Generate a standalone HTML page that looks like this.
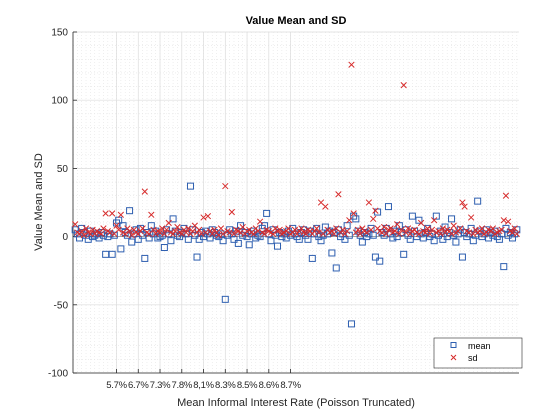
<!DOCTYPE html>
<html><head><meta charset="utf-8"><style>
html,body{margin:0;padding:0;background:#fff;}
svg{display:block;font-family:"Liberation Sans",sans-serif;}
</style></head><body>
<svg id="chart" width="560" height="420" viewBox="0 0 560 420">
<rect x="0" y="0" width="560" height="420" fill="#fff"/>
<g id="grid"></g>
<g id="axes"></g>
<g id="marks"></g>
<text x="296" y="24" text-anchor="middle" font-size="11" font-weight="bold" fill="#000">Value Mean and SD</text>
<text x="296" y="406" text-anchor="middle" font-size="11" fill="#262626">Mean Informal Interest Rate (Poisson Truncated)</text>
<text transform="translate(42,202) rotate(-90)" text-anchor="middle" font-size="11" fill="#262626">Value Mean and SD</text>
<g>
<rect x="434" y="338" width="88" height="30" fill="#fff" stroke="#262626" stroke-width="0.6"/>
<rect x="451" y="342.5" width="5" height="5" fill="none" stroke="#2e5fb0" stroke-width="1"/>
<text x="468" y="349" font-size="9" fill="#000">mean</text>
<path d="M451,355 l5,5 M456,355 l-5,5" stroke="#d62b2b" stroke-width="1"/>
<text x="468" y="361" font-size="9" fill="#000">sd</text>
</g>
</svg>
<script>
const meanValues=[5,2,-1,6,3,1,-2,4,0,1,2,-1,3,1,-13,0,2,-13,1,10,
12,-9,8,3,1,19,-4,2,5,-2,6,1,-16,3,-1,8,2,4,-1,0,
1,-8,5,2,-3,13,4,1,0,3,6,2,-2,37,5,1,-15,-2,3,0,
4,2,-1,5,3,1,0,2,-3,-46,1,5,2,-2,4,-5,8,1,3,0,
-6,2,4,-1,1,0,6,8,17,2,-3,5,1,-7,3,0,2,-1,4,1,
6,2,0,-2,3,5,1,-2,4,-16,2,6,0,-3,1,7,2,4,-12,3,
-23,5,0,2,-2,8,1,-64,15,13,4,1,-4,3,0,2,6,1,-15,18,
-18,3,1,6,22,2,-1,4,0,8,3,-13,5,1,-2,15,4,0,12,2,
-1,3,6,0,2,-3,15,1,4,-2,7,0,3,13,1,-4,2,5,-15,3,
0,2,6,-3,1,26,4,0,2,5,-1,3,1,4,0,-2,2,-22,6,1,
3,-1,2,5];
const sdValues=[9,3,2,4,1,6,3,2,5,2,4,3,2,6,17,4,3,17,2,8,
5,16,3,2,6,4,1,5,3,2,4,6,33,3,2,16,5,2,4,3,
6,2,5,10,3,2,4,7,3,2,5,3,6,2,4,8,3,5,2,14,
3,15,4,2,5,3,1,6,2,37,4,3,18,2,5,4,3,7,2,4,
5,3,2,6,4,11,3,2,5,4,3,2,6,4,5,2,3,4,6,2,
3,5,2,4,6,3,2,5,4,2,4,6,3,25,2,22,5,3,4,2,
6,31,3,5,2,4,12,126,17,3,5,2,6,4,3,25,5,13,19,6,
4,3,7,2,5,6,3,4,9,2,5,111,3,6,2,4,5,3,2,10,
4,3,6,2,5,12,3,4,2,6,3,5,4,2,8,3,4,6,25,22,
4,3,14,2,5,3,4,6,2,3,5,4,6,2,3,4,5,12,30,11,
4,3,6,2];
const xTickLabels=["5.7%","6.7%","7.3%","7.8%","8,1%","8.3%","8.5%","8.6%","8.7%"];
const xTickValues=[20,30,40,50,60,70,80,90,100];
const yTickValues=[150,100,50,0,-50,-100];

const NS="http://www.w3.org/2000/svg";
const L=73,R=519,T=32,B=373,XMAX=205,YMIN=-100,YMAX=150;
const xs=v=>L+v/XMAX*(R-L);
const ys=v=>B-(v-YMIN)/(YMAX-YMIN)*(B-T);
function mk(tag,attrs,parent){const e=document.createElementNS(NS,tag);for(const k in attrs)e.setAttribute(k,attrs[k]);parent.appendChild(e);return e;}
const grid=document.getElementById('grid'),axes=document.getElementById('axes'),marks=document.getElementById('marks');
// minor grid
for(let v=YMIN;v<=YMAX;v+=10){const l=mk('line',{x1:L,x2:R,y1:ys(v),y2:ys(v),stroke:'#e4e4e4','stroke-width':0.6,'stroke-dasharray':'1,2'},grid);

}
for(let v=0;v<=XMAX;v+=2){const l=mk('line',{x1:xs(v),x2:xs(v),y1:T,y2:B,stroke:'#e4e4e4','stroke-width':0.6,'stroke-dasharray':'1,2'},grid);

}
// major grid
yTickValues.forEach(v=>{const l=mk('line',{x1:L,x2:R,y1:ys(v),y2:ys(v),stroke:'#dcdcdc','stroke-width':0.7},grid);

});
xTickValues.forEach(v=>{const l=mk('line',{x1:xs(v),x2:xs(v),y1:T,y2:B,stroke:'#dcdcdc','stroke-width':0.7},grid);

});
// zero line
const z=mk('line',{x1:L,x2:R,y1:ys(0),y2:ys(0),stroke:'#8a8a8a','stroke-width':0.8},grid);


// axes
const ya=mk('line',{x1:L,x2:L,y1:T,y2:B,stroke:'#262626','stroke-width':0.8},axes);


const xa=mk('line',{x1:L,x2:R,y1:B,y2:B,stroke:'#262626','stroke-width':0.8},axes);


yTickValues.forEach(v=>{
 const t=mk('line',{x1:L,x2:L+4,y1:ys(v),y2:ys(v),stroke:'#262626','stroke-width':0.8},axes);
 
 
 const tx=mk('text',{x:L-5,y:ys(v)+3.5,'text-anchor':'end','font-size':10,fill:'#262626'},axes);
 tx.textContent=v;
 
 
});
xTickValues.forEach((v,i)=>{
 const t=mk('line',{x1:xs(v),x2:xs(v),y1:B,y2:B-4,stroke:'#262626','stroke-width':0.8},axes);
 
 
 const tx=mk('text',{x:xs(v),y:B+15,'text-anchor':'middle','font-size':9.5,fill:'#262626','letter-spacing':'-0.3'},axes);
 tx.textContent=xTickLabels[i];
 
 
});
// marks
meanValues.forEach((v,i)=>{
 const x=xs(i+1),y=ys(v);
 const r=mk('rect',{x:x-3,y:y-3,width:6,height:6,fill:'none',stroke:'#2e5fb0','stroke-width':1},marks);
 
 
});
sdValues.forEach((v,i)=>{
 const x=xs(i+1),y=ys(v);
 const p=mk('path',{d:`M${x-2.8},${y-2.8}L${x+2.8},${y+2.8}M${x+2.8},${y-2.8}L${x-2.8},${y+2.8}`,stroke:'#d62b2b','stroke-width':1},marks);
 
 
});
</script>
</body></html>
